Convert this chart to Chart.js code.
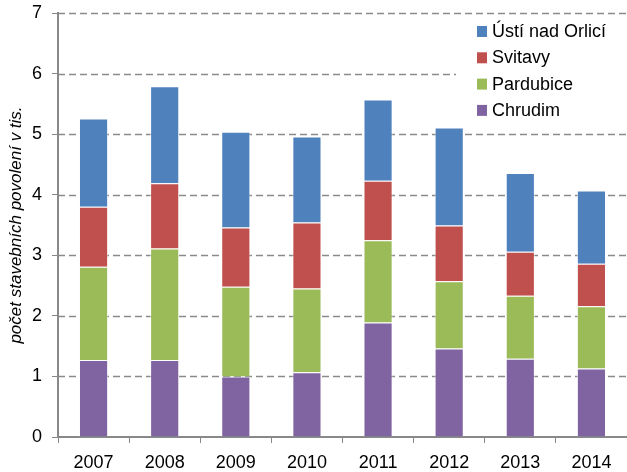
<!DOCTYPE html>
<html lang="cs">
<head>
<meta charset="UTF-8">
<title>Stavební povolení</title>
<script src="https://cdn.jsdelivr.net/npm/chart.js"></script>
<style>
  html, body { margin: 0; padding: 0; background: #fff; }
  #wrap { width: 627px; height: 472px; }
</style>
</head>
<body>
<div id="wrap"><canvas id="chart" width="627" height="472"></canvas></div>
<script>
// data (tis. povolení)
const years = ['2007', '2008', '2009', '2010', '2011', '2012', '2013', '2014'];
const chrudim   = [1.27, 1.27, 1.00, 1.07, 1.89, 1.46, 1.29, 1.13];
const pardubice = [1.54, 1.84, 1.48, 1.38, 1.36, 1.11, 1.04, 1.03];
const svitavy   = [0.99, 1.08, 0.98, 1.09, 0.98, 0.92, 0.73, 0.70];
const usti      = [1.46, 1.60, 1.58, 1.42, 1.34, 1.62, 1.30, 1.21];
const yTicks = [0, 1, 2, 3, 4, 5, 6, 7];

const FONT = "'Liberation Sans', Arial, sans-serif";

// dashed horizontal grid, drawn from the y scale ticks
const dashedGrid = {
  id: 'dashedGrid',
  beforeDatasetsDraw(chart) {
    const ctx = chart.ctx;
    const area = chart.chartArea;
    const y = chart.scales.y;
    ctx.save();
    ctx.strokeStyle = '#8a8a8a';
    ctx.lineWidth = 1.4;
    ctx.setLineDash([7, 4]);
    y.ticks.forEach(t => {
      if (t.value === 0) return;
      const py = Math.round(y.getPixelForValue(t.value)) + 0.5;
      ctx.beginPath();
      ctx.moveTo(area.left, py);
      ctx.lineTo(area.right, py);
      ctx.stroke();
    });
    ctx.restore();
  }
};

// legend drawn inside the plot, top right, reversed order
const insideLegend = {
  id: 'insideLegend',
  afterDraw(chart) {
    const ctx = chart.ctx;
    const area = chart.chartArea;
    const sets = chart.data.datasets.slice().reverse();
    const x0 = area.right - 150;
    const y0 = area.top + 18;
    const step = 26.3;
    ctx.save();
    ctx.fillStyle = '#fff';
    ctx.fillRect(x0 - 21, area.top + 4, area.right - x0 + 21, step * sets.length + 4);
    ctx.font = '18px ' + FONT;
    ctx.textBaseline = 'middle';
    sets.forEach((ds, i) => {
      const cy = y0 + i * step;
      ctx.fillStyle = ds.backgroundColor;
      ctx.fillRect(x0, cy - 5, 10, 11);
      ctx.fillStyle = '#000';
      ctx.fillText(ds.label, x0 + 15, cy + 1);
    });
    ctx.restore();
  }
};

const mk = (label, data, color) => ({
  label, data, backgroundColor: color,
  borderColor: 'rgba(255,255,255,0.55)', borderWidth: 1,
  barPercentage: 0.41, categoryPercentage: 1
});

new Chart(document.getElementById('chart'), {
  type: 'bar',
  data: {
    labels: years,
    datasets: [
      mk('Chrudim', chrudim, '#8064A2'),
      mk('Pardubice', pardubice, '#9BBB59'),
      mk('Svitavy', svitavy, '#C0504D'),
      mk('Ústí nad Orlicí', usti, '#4F81BD')
    ]
  },
  options: {
    responsive: false,
    animation: false,
    layout: { padding: 0 },
    plugins: { legend: { display: false }, tooltip: { enabled: false } },
    scales: {
      x: {
        stacked: true,
        afterFit: s => { s.height = 35; },
        grid: { drawOnChartArea: false, color: '#888', tickLength: 6, offset: true },
        border: { color: '#888', width: 2 },
        ticks: { color: '#000', font: { family: FONT, size: 18 }, padding: 9, maxRotation: 0 }
      },
      y: {
        stacked: true,
        min: 0, max: 7,
        afterBuildTicks: s => { s.ticks = yTicks.map(v => ({ value: v })); },
        afterFit: s => { s.width = 58; s.paddingTop = 13; s.paddingBottom = 0; },
        grid: { drawOnChartArea: false, color: '#888', tickLength: 6 },
        border: { color: '#888', width: 2 },
        ticks: { color: '#000', font: { family: FONT, size: 18 }, padding: 10 },
        title: {
          display: true,
          text: 'počet stavebních povolení v tis.',
          color: '#000',
          font: { family: FONT, size: 17, style: 'italic' },
          padding: { top: 6, bottom: 0 }
        }
      }
    }
  },
  plugins: [dashedGrid, insideLegend]
});
</script>
</body>
</html>
